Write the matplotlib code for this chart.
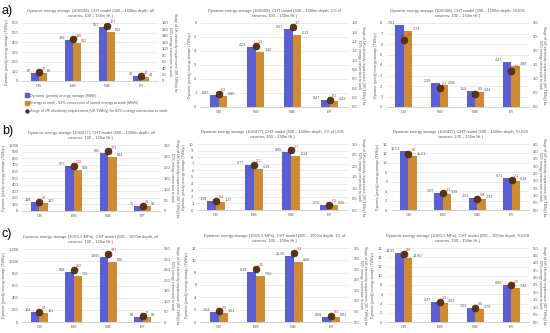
import numpy as np
from matplotlib import pyplot as plt
from matplotlib.lines import Line2D

plt.rcParams['font.family'] = ['Liberation Sans', 'DejaVu Sans']

cats = ['CB', 'EIS', 'WB', 'EY']

# row a) 108/108
a1_stor = [87, 429, 557, 47]
a1_work = [80, 392, 512, 44]
a1_uk = [27, 130, 171, 14]
a2_stor = [0.87, 4.29, 5.57, 0.47]
a2_work = [0.80, 3.92, 5.12, 0.43]
a2_uk = [0.27, 1.31, 1.71, 0.14]
a3_stor = [7.83, 2.28, 1.56, 4.27]
a3_work = [7.24, 2.08, 1.44, 3.88]
a3_uk = [2.41, 0.69, 0.48, 1.29]

# row b) 108/417
b1_stor = [138, 677, 885, 75]
b1_work = [127, 619, 814, 69]
b1_uk = [42, 206, 271, 23]
b2_stor = [1.38, 6.77, 8.85, 0.75]
b2_work = [1.27, 6.19, 8.14, 0.69]
b2_uk = [0.42, 2.06, 2.71, 0.23]
b3_stor = [12.51, 3.67, 2.52, 6.71]
b3_work = [11.51, 3.38, 2.32, 6.18]
b3_uk = [3.84, 1.13, 0.77, 2.06]

# row c) 108/1.5 MPa
c1_stor = [164, 818, 1065, 88]
c1_work = [151, 750, 980, 81]
c1_uk = [50, 250, 327, 27]
c2_stor = [1.64, 8.18, 10.65, 0.88]
c2_work = [1.51, 7.50, 9.80, 0.81]
c2_uk = [0.50, 2.50, 3.27, 0.27]
c3_stor = [14.95, 4.37, 3.03, 8.06]
c3_work = [13.80, 4.02, 2.79, 7.42]
c3_uk = [4.60, 1.34, 0.93, 2.47]

BLUE = '#5a5fd3'
ORANGE = '#cf8a34'
DOT = '#5c3310'
GRID = '#dcdcdc'
TXT = '#595959'

W, H = 550, 333
fig = plt.figure(figsize=(5.5, 3.33), dpi=100)


def rect(x0, y0, x1, y1):
    return [x0 / W, 1 - y1 / H, (x1 - x0) / W, (y1 - y0) / H]


def fmt(v, dec):
    if dec == 0:
        return '{:,.0f}'.format(v)
    return '{:.{}f}'.format(v, dec)


def panel(box, title, stor, work, uk, lmax, lstep, rmax, rstep, ldec, rdec, ukdec):
    ax = fig.add_axes(rect(*box))
    x = np.arange(len(cats))
    bw = 0.24
    ax.bar(x - bw / 2, stor, bw, color=BLUE, zorder=2)
    ax.bar(x + bw / 2, work, bw, color=ORANGE, zorder=2)
    ax.set_xlim(-0.5, 3.5)
    ax.set_ylim(0, lmax)
    lt = np.arange(0, lmax + lstep / 2, lstep)
    ax.set_yticks(lt)
    ax.set_yticklabels([fmt(t, 0) for t in lt])
    ax.set_xticks(x)
    ax.set_xticklabels(cats)
    ax.tick_params(labelsize=3, length=0, pad=2.5, colors=TXT)
    ax.grid(axis='y', color=GRID, linewidth=0.4, zorder=0)
    for s in ['top', 'right', 'left']:
        ax.spines[s].set_visible(False)
    ax.spines['bottom'].set_color('#bfbfbf')
    ax.spines['bottom'].set_linewidth(0.5)
    for i in range(len(cats)):
        ax.text(x[i] - bw, stor[i], fmt(stor[i], ldec), fontsize=2.7,
                color=TXT, ha='right', va='bottom')
        ax.text(x[i] + bw, work[i], fmt(work[i], ldec), fontsize=2.7,
                color=TXT, ha='left', va='bottom')
    ax.set_ylabel('Dynamic (yearly) energy storage (TWh/yr)', fontsize=2.5,
                  color=TXT, labelpad=2)
    ax.set_title(title, fontsize=2.9, color=TXT, pad=4, linespacing=1.4)

    ax2 = ax.twinx()
    ax2.plot(x, uk, 'o', ms=5, color=DOT, mec='#3b2006', mew=0.4, zorder=5)
    for i in range(len(cats)):
        ax2.text(x[i] + 0.07, uk[i] + rmax * 0.025, fmt(uk[i], ukdec),
                 fontsize=2.7, color='#e0302a', ha='left', va='bottom')
    ax2.set_ylim(0, rmax)
    rt = np.arange(0, rmax + rstep / 2, rstep)
    ax2.set_yticks(rt)
    ax2.set_yticklabels([fmt(t, rdec) for t in rt])
    ax2.tick_params(labelsize=3, length=0, pad=2.5, colors=TXT)
    for s in ax2.spines.values():
        s.set_visible(False)
    ax2.set_ylabel('Stage of UK electricity requirement (UK TWh/y) for\n'
                   '62% energy conversion to work', fontsize=2.5, color=TXT,
                   rotation=270, labelpad=6, linespacing=1.3)
    return ax


t_all = 'Dynamic energy storage ({}), CHT model (500 \u2013 1500m depth, all\ncaverns, 100 \u2013 150m Ht.)'
t_one = 'Dynamic energy storage ({}), CHT model (500 \u2013 1500m depth, 1% of\ncaverns, 100 \u2013 150m Ht.)'
t_one_ugs = 'Dynamic energy storage ({}), CHT model (500 \u2013 1500m depth, 1% of UGS\ncaverns, 100 \u2013 150m Ht.)'
t_ugs = 'Dynamic energy storage ({}), CHT model (500 \u2013 1500m depth, %UGS\ncaverns, 100 \u2013 150m Ht.)'

panel((22, 23, 158, 81), t_all.format('108/108'), a1_stor, a1_work, a1_uk,
      600, 100, 180, 20, 0, 0, 0)
panel((200, 23, 348, 107), t_one.format('108/108'), a2_stor, a2_work, a2_uk,
      6, 1, 1.8, 0.2, 2, 1, 1)
panel((386, 23, 529, 107), t_ugs.format('108/108'), a3_stor, a3_work, a3_uk,
      8, 1, 3.0, 0.5, 2, 1, 1)

panel((22, 145, 160, 211), t_all.format('108/417'), b1_stor, b1_work, b1_uk,
      1000, 100, 300, 50, 0, 0, 0)
panel((197, 144, 348, 210), t_one_ugs.format('108/417'), b2_stor, b2_work, b2_uk,
      10, 1, 3.0, 0.5, 2, 1, 1)
panel((391, 144, 529, 210), t_ugs.format('108/417'), b3_stor, b3_work, b3_uk,
      14, 2, 4.5, 0.5, 2, 1, 1)

panel((22, 249, 160, 322), t_all.format('108/1.5 MPa'), c1_stor, c1_work, c1_uk,
      1200, 200, 350, 50, 0, 0, 0)
panel((200, 248, 350, 322), t_one.format('108/1.5 MPa'), c2_stor, c2_work, c2_uk,
      12, 2, 3.5, 0.5, 2, 1, 1)
panel((386, 248, 529, 322), t_ugs.format('108/1.5 MPa'), c3_stor, c3_work, c3_uk,
      16, 2, 5.0, 0.5, 2, 1, 1)

# legend under panel a)
handles = [
    Line2D([], [], ls='', marker='s', ms=2.2, color=BLUE),
    Line2D([], [], ls='', marker='s', ms=2.2, color=ORANGE),
    Line2D([], [], ls='', marker='o', ms=2.2, color=DOT),
]
labels = [
    'Dynamic (yearly) energy storage (MWh)',
    'Energy to work - 62% conversion of stored energy to work (MWh)',
    'Stage of UK electricity requirement (UK TWh/y) for 62% energy conversion to work',
]
fig.legend(handles, labels, loc='upper left', bbox_to_anchor=(24 / W, 1 - 92 / H),
           fontsize=2.7, frameon=False, handlelength=0.8, handletextpad=0.5,
           labelspacing=1.0, labelcolor=TXT, borderaxespad=0)

fig.text(2 / W, 1 - 11 / H, 'a)', fontsize=9, va='center')
fig.text(2 / W, 1 - 131 / H, 'b)', fontsize=9, va='center')
fig.text(2 / W, 1 - 234 / H, 'c)', fontsize=9, va='center')

fig.savefig('out.png', dpi=100)
